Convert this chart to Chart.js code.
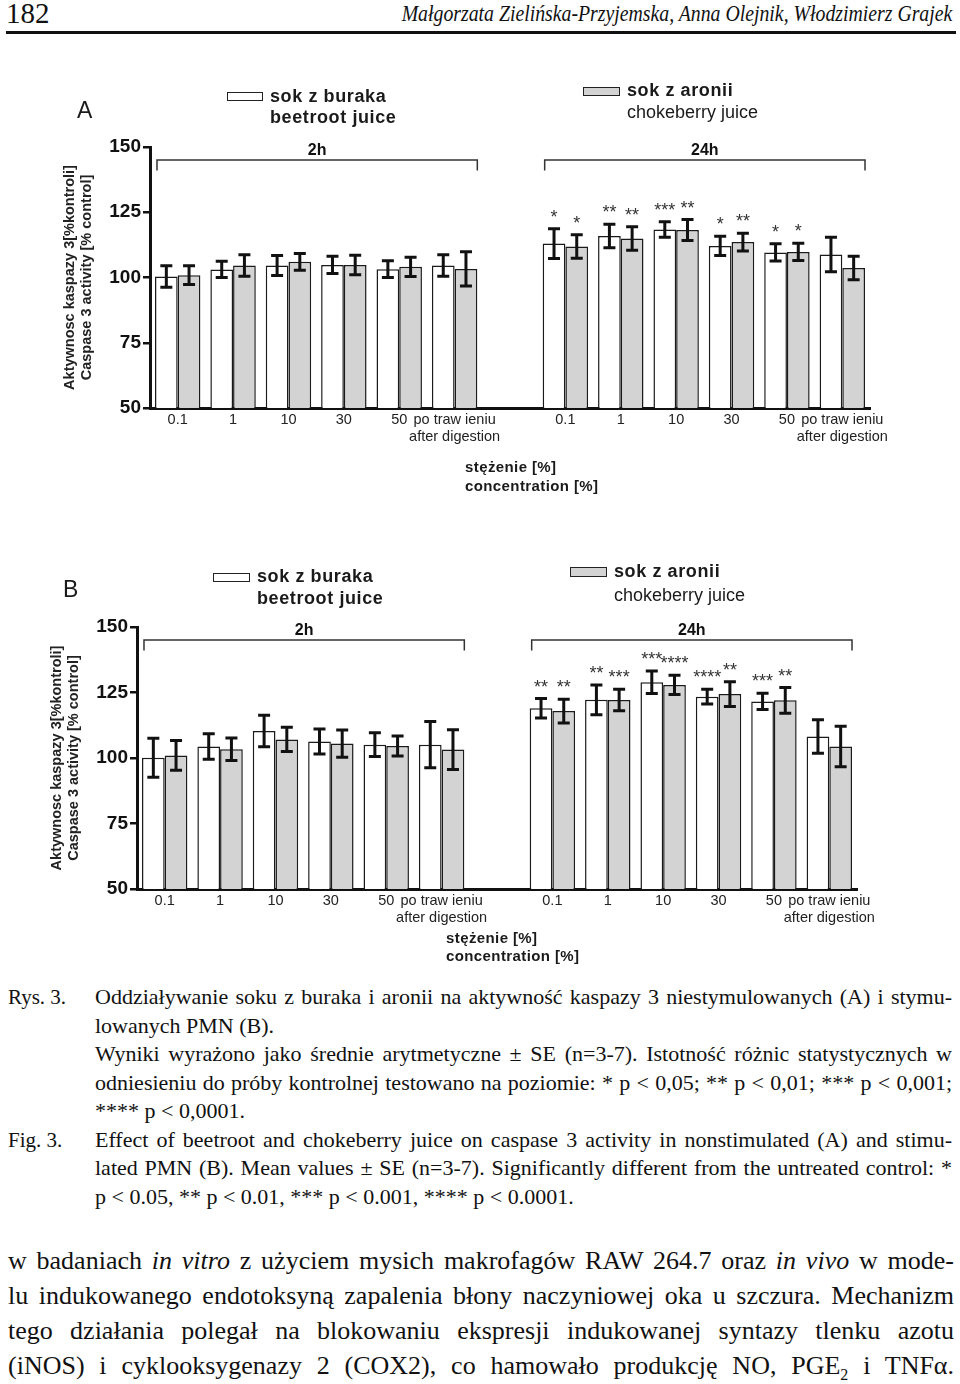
<!DOCTYPE html>
<html>
<head>
<meta charset="utf-8">
<script src="https://cdn.jsdelivr.net/npm/chart.js@4.4.1/dist/chart.umd.min.js"></script>
<style>
  body { margin: 0; background: #fff; }
  #page { position: relative; width: 960px; height: 1384px; overflow: hidden; color: #1a1a1a; font-family: 'Liberation Sans', Arial, sans-serif; }
  .abs { position: absolute; white-space: nowrap; line-height: 1; }
  canvas { position: absolute; left: 0; }
  .box { position: absolute; box-sizing: border-box; border: 1.5px solid #222; }
  .leg { position: absolute; white-space: nowrap; font-size: 18px; }
  .leg b { letter-spacing: 0.6px; }
  .conc { position: absolute; white-space: nowrap; font-size: 15px; font-weight: bold; line-height: 19px; letter-spacing: 0.4px; }
  .serif { font-family: 'Liberation Serif', 'Times New Roman', serif; color: #111; }
  .cap { position: absolute; left: 0; top: 983px; width: 960px; font-size: 22px; line-height: 28.5px; }
  .cap .lab { position: absolute; left: 8px; font-size: 21px; }
  .cap .ln { margin-left: 95px; width: 857px; text-align: justify; text-align-last: justify; white-space: nowrap; }
  .cap .ln.end { text-align-last: left; }
  .txt { position: absolute; left: 8px; top: 1243px; width: 946px; font-size: 26px; line-height: 35px; }
  .txt .ln { text-align: justify; text-align-last: justify; white-space: nowrap; }
</style>
</head>
<body>
<div id="page">
  <div class="abs serif" style="left:6px; top:-1px; font-size:29px;">182</div>
  <div class="abs serif" style="right:8px; top:2px; font-size:23px; font-style:italic; transform:scaleX(0.86); transform-origin:right center;">Małgorzata Zielińska-Przyjemska, Anna Olejnik, Włodzimierz Grajek</div>
  <div style="position:absolute; left:6px; top:31px; width:950px; height:3px; background:#111;"></div>

  <canvas id="chartA" width="960" height="400" style="top:60px;"></canvas>
  <canvas id="chartB" width="960" height="400" style="top:540px;"></canvas>

  <!-- panel A -->
  <div class="abs" style="left:77px; top:98.5px; font-size:23px;">A</div>
  <div class="box" style="left:227px; top:92px; width:36px; height:9px; background:#fff;"></div>
  <div class="leg" style="left:270px; top:85.8px; line-height:21.3px;"><b>sok z buraka</b><br><b>beetroot juice</b></div>
  <div class="box" style="left:583px; top:87px; width:37px; height:9px; background:#d3d3d3;"></div>
  <div class="leg" style="left:627px; top:80.2px; line-height:21.7px;"><b>sok z aronii</b><br>chokeberry juice</div>
  <div class="conc" style="left:465px; top:456.8px;">stężenie [%]<br>concentration [%]</div>

  <!-- panel B -->
  <div class="abs" style="left:63px; top:577.8px; font-size:23px;">B</div>
  <div class="box" style="left:213px; top:573px; width:37px; height:9px; background:#fff;"></div>
  <div class="leg" style="left:257px; top:566.2px; line-height:21.7px;"><b>sok z buraka</b><br><b>beetroot juice</b></div>
  <div class="box" style="left:570px; top:567px; width:37px; height:10px; background:#d3d3d3;"></div>
  <div class="leg" style="left:614px; top:560.4px; line-height:23.4px;"><b>sok z aronii</b><br>chokeberry juice</div>
  <div class="conc" style="left:446px; top:929.3px; line-height:18px;">stężenie [%]<br>concentration [%]</div>

  <div class="cap serif">
    <div class="lab" style="top:0px;">Rys. 3.</div>
    <div class="ln">Oddziaływanie soku z buraka i aronii na aktywność kaspazy 3 niestymulowanych (A) i stymu-</div>
    <div class="ln end">lowanych PMN (B).</div>
    <div class="ln">Wyniki wyrażono jako średnie arytmetyczne ± SE (n=3-7). Istotność różnic statystycznych w</div>
    <div class="ln">odniesieniu do próby kontrolnej testowano na poziomie: * p &lt; 0,05; ** p &lt; 0,01; *** p &lt; 0,001;</div>
    <div class="ln end">**** p &lt; 0,0001.</div>
    <div class="lab" style="top:142.5px;">Fig. 3.</div>
    <div class="ln">Effect of beetroot and chokeberry juice on caspase 3 activity in nonstimulated (A) and stimu-</div>
    <div class="ln">lated PMN (B). Mean values ± SE (n=3-7). Significantly different from the untreated control: *</div>
    <div class="ln end">p &lt; 0.05, ** p &lt; 0.01, *** p &lt; 0.001, **** p &lt; 0.0001.</div>
  </div>

  <div class="txt serif">
    <div class="ln">w badaniach <i>in vitro</i> z użyciem mysich makrofagów RAW 264.7 oraz <i>in vivo</i> w mode-</div>
    <div class="ln">lu indukowanego endotoksyną zapalenia błony naczyniowej oka u szczura. Mechanizm</div>
    <div class="ln">tego działania polegał na blokowaniu ekspresji indukowanej syntazy tlenku azotu</div>
    <div class="ln">(iNOS) i cyklooksygenazy 2 (COX2), co hamowało produkcję NO, PGE<sub style="font-size:16px; line-height:0;">2</sub> i TNFα.</div>
  </div>
</div>

<script>
const FONT = "'Liberation Sans', Arial, sans-serif";
Chart.defaults.font.family = FONT;

// x categories: concentrations [%], repeated for 2h and 24h
const concLabels = ['0.1', '1', '10', '30', '50', ['po traw ieniu', 'after digestion']];
const periods = ['2h', '24h'];
const yTitle = ['Aktywnosc kaspazy 3[%kontroli]', 'Caspase 3 activity [% control]'];

// A - nonstimulated PMN (first 6 = 2h, last 6 = 24h)
const beetA = [100.4, 103.1, 104.6, 104.8, 103.2, 104.6, 113.0, 115.9, 118.4, 112.1, 109.6, 108.8];
const beetAErr = [4.1, 3.1, 3.8, 3.3, 3.2, 4.1, 5.7, 4.5, 3.0, 3.7, 3.3, 6.6];
const chokeA = [100.9, 104.6, 106.0, 104.8, 104.1, 103.3, 111.9, 114.9, 118.2, 113.6, 109.8, 103.6];
const chokeAErr = [3.6, 4.1, 3.2, 3.7, 3.7, 6.6, 4.5, 4.5, 4.0, 3.4, 3.3, 4.5];
const beetAStars = ['', '', '', '', '', '', '*', '**', '***', '*', '*', ''];
const chokeAStars = ['', '', '', '', '', '', '*', '**', '**', '**', '*', ''];

// B - stimulated PMN
const beetB = [100.1, 104.4, 110.3, 106.3, 105.1, 105.1, 119.0, 122.2, 128.9, 123.4, 121.6, 108.2];
const beetBErr = [7.4, 4.9, 6.0, 4.8, 4.5, 8.8, 3.7, 5.7, 4.3, 2.8, 3.1, 6.4];
const chokeB = [101.0, 103.3, 107.1, 105.5, 104.6, 103.2, 117.9, 122.1, 127.9, 124.4, 122.0, 104.4];
const chokeBErr = [5.7, 4.3, 4.6, 5.2, 3.8, 7.6, 4.5, 4.1, 3.7, 4.7, 4.9, 7.7];
const beetBStars = ['', '', '', '', '', '', '**', '**', '***', '****', '***', ''];
const chokeBStars = ['', '', '', '', '', '', '**', '***', '****', '**', '**', ''];

// empty category between the 2h and 24h blocks
const withGap = (arr, fill) => [...arr.slice(0, 6), fill, ...arr.slice(6)];
const categories = withGap([...concLabels, ...concLabels], '');

const errorBars = {
  id: 'errorBars',
  afterDatasetsDraw(chart) {
    const { ctx } = chart;
    const y = chart.scales.y;
    ctx.save();
    ctx.strokeStyle = '#111';
    ctx.fillStyle = '#333';
    ctx.lineWidth = 3;
    ctx.font = `18px ${FONT}`;
    ctx.textAlign = 'center';
    ctx.textBaseline = 'alphabetic';
    chart.data.datasets.forEach((ds, di) => {
      chart.getDatasetMeta(di).data.forEach((bar, i) => {
        const v = ds.data[i];
        if (v == null) return;
        const top = y.getPixelForValue(v + ds.errors[i]);
        const bot = y.getPixelForValue(v - ds.errors[i]);
        ctx.beginPath();
        ctx.moveTo(bar.x, top); ctx.lineTo(bar.x, bot);
        ctx.moveTo(bar.x - 6, top); ctx.lineTo(bar.x + 6, top);
        ctx.moveTo(bar.x - 6, bot); ctx.lineTo(bar.x + 6, bot);
        ctx.stroke();
        if (ds.stars[i]) ctx.fillText(ds.stars[i], bar.x, top - 6);
      });
    });
    ctx.restore();
  },
};

// brackets "2h" / "24h" over the two blocks of bars
const brackets = {
  id: 'brackets',
  afterDatasetsDraw(chart) {
    const { ctx } = chart;
    const y = chart.scales.y;
    const white = chart.getDatasetMeta(0).data;
    const grey = chart.getDatasetMeta(1).data;
    const yLine = y.getPixelForValue(145);
    const yEnd = y.getPixelForValue(141);
    ctx.save();
    ctx.strokeStyle = '#333';
    ctx.fillStyle = '#111';
    ctx.lineWidth = 1.5;
    ctx.font = `bold 16px ${FONT}`;
    ctx.textAlign = 'center';
    [[0, 5], [7, 12]].forEach(([a, b], k) => {
      const x0 = white[a].x - white[a].width / 2 + 2;
      const x1 = grey[b].x + grey[b].width / 2;
      ctx.beginPath();
      ctx.moveTo(x0, yEnd); ctx.lineTo(x0, yLine); ctx.lineTo(x1, yLine); ctx.lineTo(x1, yEnd);
      ctx.stroke();
      ctx.fillText(periods[k], (x0 + x1) / 2, yLine - 5);
    });
    ctx.restore();
  },
};

const makeChart = (id, beet, beetErr, beetStars, choke, chokeErr, chokeStars, box) => {
  const ctx = document.getElementById(id).getContext('2d');
  return new Chart(ctx, {
    type: 'bar',
    data: {
      labels: categories,
      datasets: [
        {
          label: 'sok z buraka / beetroot juice',
          data: withGap(beet, null),
          errors: withGap(beetErr, 0),
          stars: withGap(beetStars, ''),
          backgroundColor: '#ffffff',
          borderColor: '#1a1a1a',
          borderWidth: 1.5,
        },
        {
          label: 'sok z aronii / chokeberry juice',
          data: withGap(choke, null),
          errors: withGap(chokeErr, 0),
          stars: withGap(chokeStars, ''),
          backgroundColor: '#d3d3d3',
          borderColor: '#1a1a1a',
          borderWidth: 1.5,
        },
      ],
    },
    plugins: [errorBars, brackets],
    options: {
      responsive: false,
      animation: false,
      categoryPercentage: 0.82,
      barPercentage: 1,
      layout: { padding: { top: box.padTop, right: box.padRight, left: 0, bottom: 0 } },
      plugins: {
        legend: { display: false },
        tooltip: { enabled: false },
      },
      scales: {
        x: {
          grid: { display: false },
          border: { display: true, width: 3, color: '#111' },
          ticks: {
            font: { size: 14.5 },
            color: '#222',
            maxRotation: 0,
            autoSkip: false,
            padding: -5,
          },
          afterFit(scale) { scale.height = box.xHeight; },
        },
        y: {
          min: 50,
          max: 150,
          ticks: {
            stepSize: 25,
            font: { size: 19, weight: 'bold' },
            color: '#111',
            padding: 2,
          },
          grid: {
            display: true,
            drawOnChartArea: false,
            drawTicks: true,
            tickLength: 7,
            lineWidth: 2.5,
            color: '#111',
          },
          border: { display: true, width: 3, color: '#111' },
          title: {
            display: true,
            text: yTitle,
            color: '#222',
            font: { size: 14.5, weight: 'bold', lineHeight: 1.2 },
            padding: { top: box.titlePad, bottom: 0 },
          },
          afterFit(scale) { scale.width = box.yWidth; },
        },
      },
    },
  });
};

makeChart('chartA', beetA, beetAErr, beetAStars, chokeA, chokeAErr, chokeAStars,
  { padTop: 87, padRight: 90, xHeight: 52, yWidth: 150, titlePad: 61.3 });
makeChart('chartB', beetB, beetBErr, beetBStars, chokeB, chokeBErr, chokeBStars,
  { padTop: 87, padRight: 103, xHeight: 51, yWidth: 137, titlePad: 48.3 });
</script>
</body>
</html>
